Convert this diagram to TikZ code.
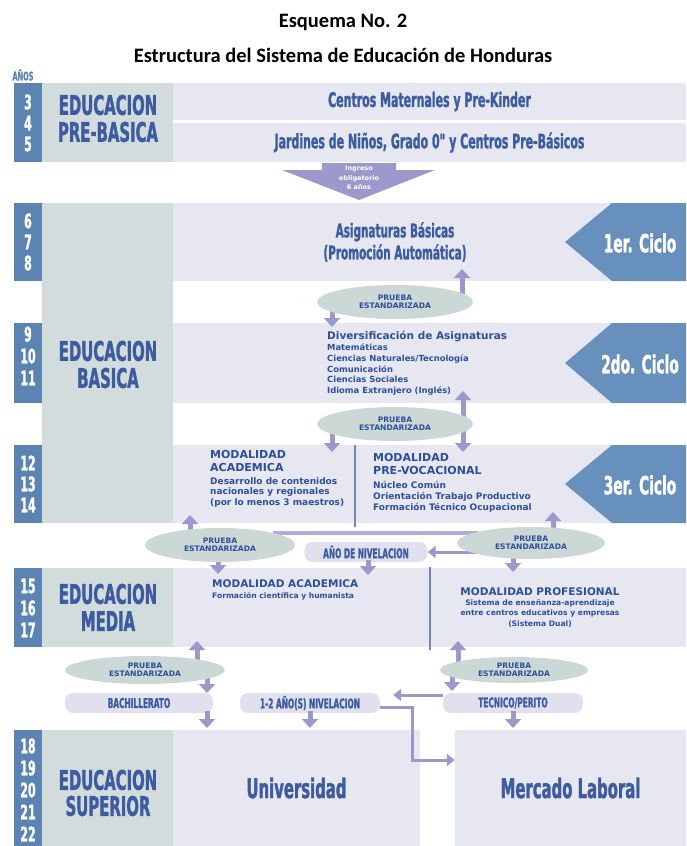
\documentclass[tikz,border=0pt]{standalone}
\usepackage{fontspec}
\usepackage{tikz}
\usetikzlibrary{arrows.meta,shapes.geometric,positioning}
\setmainfont{DejaVu Sans}
\newfontfamily\titlefont{Carlito}
\newfontfamily\cond[FakeStretch=0.55,BoldFeatures={FakeBold=1.2}]{DejaVu Sans}
\definecolor{strip}{HTML}{5B84B3}
\definecolor{grayc}{HTML}{D2DCDC}
\definecolor{lav}{HTML}{E7E7F2}
\definecolor{head}{HTML}{3D5CA0}
\definecolor{txt}{HTML}{2E4E9A}
\definecolor{arrowc}{HTML}{9D98CC}
\definecolor{ellc}{HTML}{CCD8D6}
\definecolor{cyc}{HTML}{6790BC}
\definecolor{pill}{HTML}{E0E0EF}
\definecolor{divc}{HTML}{6E88B2}

\begin{document}
\begin{tikzpicture}[x=1pt,y=-1pt,
  ttl/.style={font=\titlefont\bfseries\fontsize{20.5}{20.5}\selectfont},
  num/.style={font=\cond\bfseries\fontsize{20}{20}\selectfont,text=white,inner sep=0pt},
  edu/.style={font=\cond\bfseries\fontsize{27}{27}\selectfont,text=head,inner sep=0pt},
  band/.style={fill=lav,minimum width=513pt,inner sep=0pt,font=\cond\bfseries\fontsize{20}{20}\selectfont,text=head},
  big/.style={font=\cond\bfseries\fontsize{19}{22}\selectfont,text=head,align=center},
  ciclo/.style={font=\cond\bfseries\fontsize{25}{25}\selectfont,text=white},
  prueba/.style={ellipse,inner sep=0pt,align=center,font=\bfseries\fontsize{7.6}{8.4}\selectfont,text=txt},
  pillbox/.style={rounded corners=8pt,fill=pill,minimum height=20pt,inner sep=0pt,font=\cond\bfseries\fontsize{13.5}{13.5}\selectfont,text=head},
  hd/.style={font=\bfseries\fontsize{10.5}{13}\selectfont,text=txt,align=left,inner sep=0pt},
  sm/.style={font=\bfseries\fontsize{7.6}{10.8}\selectfont,text=txt,align=left,inner sep=0pt},
  fat/.style={line width=5pt,arrowc,-{Triangle[width=16pt,length=9pt]}},
  slim/.style={line width=3pt,arrowc,-{Triangle[width=12pt,length=8pt]}},
]
\useasboundingbox (0,0) rectangle (686,846);

\node[ttl] (t1) at (343,22) {Esquema No. 2};
\node[ttl] (t2) at (343,55) {Estructura del Sistema de Educación de Honduras};
\node[font=\cond\bfseries\fontsize{12}{12}\selectfont,text=strip] (anos) at (23,75) {AÑOS};

% pre-basica
\fill[strip] (14,83) rectangle (42,162);
\fill[grayc] (42,83) rectangle (173,162);
\node[band,minimum height=37pt] (pk) at (429.5,101.5) {Centros Maternales y Pre-Kinder};
\node[band,minimum height=39pt] (jn) at (429.5,142.5) {Jardines de Niños, Grado 0" y Centros Pre-Básicos};
\foreach \n/\y in {3/102,4/123,5/144} \node[num] at (28,\y) {\n};
\node[edu] (e1) at (108,105) {EDUCACION};
\node[edu] (e2) at (108,132) {PRE-BASICA};

\fill[arrowc] (322,163) -- (396,163) -- (396,170) -- (435,170) -- (359,200) -- (282,170) -- (322,170) -- cycle;
\node[font=\bfseries\fontsize{6.5}{9.5}\selectfont,text=white,align=center] (ingreso) at (359,178) {Ingreso\\obligatorio\\6 años};

% basica
\fill[grayc] (42,203) rectangle (173,523);
\fill[strip] (14,203) rectangle (42,281);
\fill[strip] (14,323) rectangle (42,403);
\fill[strip] (14,445) rectangle (42,523);
\foreach \n/\y in {6/221,7/242,8/263,9/334,10/356,11/378,12/463,13/484,14/505} \node[num] at (28,\y) {\n};
\node[edu] (e3) at (108,351) {EDUCACION};
\node[edu] (e4) at (108,378) {BASICA};

\fill[lav] (173,203) rectangle (686,281);
\fill[lav] (173,323) rectangle (686,403);
\fill[lav] (173,445) rectangle (686,523);
\draw[divc,line width=1.2pt] (355,445) -- (355,527);

\fill[cyc] (612,203) -- (686,203) -- (686,281) -- (612,281) -- (565,242) -- cycle;
\fill[cyc] (612,323) -- (686,323) -- (686,403) -- (612,403) -- (565,363) -- cycle;
\fill[cyc] (612,445) -- (686,445) -- (686,523) -- (612,523) -- (565,484) -- cycle;
\node[ciclo] (c1) at (640,243) {1er. Ciclo};
\node[ciclo] (c2) at (640,364) {2do. Ciclo};
\node[ciclo] (c3) at (640,485) {3er. Ciclo};

\node[big] (asig) at (395,242) {Asignaturas Básicas\\(Promoción Automática)};
\node[sm,font=\bfseries\fontsize{8.4}{10.8}\selectfont,anchor=north west] (div) at (327,331) {{\fontsize{10.5}{12}\selectfont Diversificación de Asignaturas}\\Matemáticas\\Ciencias Naturales/Tecnología\\Comunicación\\Ciencias Sociales\\Idioma Extranjero (Inglés)};
\node[hd,font=\bfseries\fontsize{11}{13.5}\selectfont,anchor=north west] (acaH) at (210,450) {MODALIDAD\\ACADEMICA};
\node[sm,font=\bfseries\fontsize{9}{10.8}\selectfont,anchor=north west] (acaB) at (210,477) {Desarrollo de contenidos\\nacionales y regionales\\(por lo menos 3 maestros)};
\node[hd,font=\bfseries\fontsize{11}{13.5}\selectfont,anchor=north west] (preH) at (373,453) {MODALIDAD\\PRE-VOCACIONAL};
\node[sm,font=\bfseries\fontsize{9}{10.8}\selectfont,anchor=north west] (preB) at (373,481) {Núcleo Común\\Orientación Trabajo Productivo\\Formación Técnico Ocupacional};

% media
\fill[strip] (14,568) rectangle (42,647);
\fill[grayc] (42,568) rectangle (173,647);
\fill[lav] (173,568) rectangle (686,647);
\draw[divc,line width=1.2pt] (430,567) -- (430,650);
\foreach \n/\y in {15/586,16/608,17/630} \node[num] at (28,\y) {\n};
\node[edu] (e5) at (108,594) {EDUCACION};
\node[edu] (e6) at (108,621) {MEDIA};
\node[hd,anchor=west] (medA) at (212,584) {MODALIDAD ACADEMICA};
\node[sm,anchor=west] (medB) at (212,596) {Formación científica y humanista};
\node[hd] (proH) at (540,592) {MODALIDAD PROFESIONAL};
\node[sm,align=center,anchor=north] (proB) at (540,599) {Sistema de enseñanza-aprendizaje\\entre centros educativos y empresas\\(Sistema Dual)};

% superior
\fill[strip] (14,730) rectangle (42,846);
\fill[grayc] (42,730) rectangle (173,846);
\foreach \n/\y in {18/746,19/768,20/790,21/812,22/834} \node[num] at (28,\y) {\n};
\node[edu] (e7) at (108,780) {EDUCACION};
\node[edu] (e8) at (108,806) {SUPERIOR};
\node[fill=lav,minimum width=247pt,minimum height=116pt,inner sep=0pt,font=\cond\bfseries\fontsize{27}{27}\selectfont,text=head] (univ) at (296.5,788) {Universidad};
\node[fill=lav,minimum width=231pt,minimum height=116pt,inner sep=0pt,font=\cond\bfseries\fontsize{27}{27}\selectfont,text=head] (merc) at (570.5,788) {Mercado Laboral};

% pruebas y niveles
\path (395,302) node[prueba,minimum width=156pt,minimum height=34pt] (pr1) {}
      (395,424) node[prueba,minimum width=156pt,minimum height=34pt] (pr2) {}
      (220,545) node[prueba,minimum width=150pt,minimum height=34pt] (pr3l) {}
      (531,543) node[prueba,minimum width=148pt,minimum height=32pt] (pr3r) {}
      (145,670) node[prueba,minimum width=160pt,minimum height=28pt] (pr4l) {}
      (514,670) node[prueba,minimum width=148pt,minimum height=26pt] (pr4r) {};
\coordinate (barL) at (273,533);
\coordinate (barR) at (478,533);

\draw[fat] ([xshift=67pt]pr1.center) -- ++(0,-33);
\draw[fat] ([xshift=-63pt]pr1.center) -- ++(0,25);
\draw[fat] ([xshift=68pt]pr2.center) -- ++(0,-33);
\draw[fat] ([xshift=-63pt]pr2.center) -- ++(0,28);
\draw[fat] ([xshift=68pt]pr2.center) -- ++(0,28);
\draw[line width=3.5pt,arrowc!80] (barL) -- (barR);
\draw[fat] ([xshift=-30pt]pr3l.center) -- ++(0,-30);
\draw[fat] ([xshift=-2pt]pr3l.center) -- ++(0,29);
\draw[fat] ([xshift=22pt]pr3r.center) -- ++(0,-31);
\draw[fat] ([xshift=-18pt]pr3r.center) -- ++(0,29);
\draw[fat] ([xshift=52pt]pr4l.center) -- ++(0,-29);
\draw[fat] ([xshift=62pt]pr4l.center) -- ++(0,23);
\draw[fat] ([xshift=-56pt]pr4r.center) -- ++(0,-29);
\draw[fat] ([xshift=-62pt]pr4r.center) -- ++(0,21);

\node[pillbox,minimum width=123pt] (nivel) at (366,552) {AÑO DE NIVELACION};
\node[pillbox,minimum width=148pt] (bach) at (139,703) {BACHILLERATO};
\node[pillbox,minimum width=140pt] (n12) at (310,703) {1-2 AÑO(S) NIVELACION};
\node[pillbox,minimum width=140pt] (tec) at (513,703) {TECNICO/PERITO};

\draw[fat] (nivel.center) ++(2,8) -- ++(0,15);
\draw[fat] ([xshift=68pt]bach.center) ++(0,8) -- ++(0,17);
\draw[fat] (n12.center) ++(0,8) -- ++(0,17);
\draw[fat] (tec.center) ++(0,8) -- ++(0,17);
\draw[slim] ([xshift=60pt]nivel.east) -- (nivel.east);
\draw[slim] ([yshift=8pt]tec.west) -- ([yshift=8pt,xshift=13pt]n12.east);
\draw[slim] ([yshift=-4pt]n12.east) -- ++(32,0) |- ([yshift=28pt]merc.west);

\foreach \p/\w/\h in {pr1/156/34,pr2/156/34,pr3l/150/34,pr3r/148/32,pr4l/160/28,pr4r/148/26}
  \node[prueba,fill=ellc,minimum width=\w pt,minimum height=\h pt] at (\p) {PRUEBA\\ESTANDARIZADA};
\end{tikzpicture}
\end{document}
